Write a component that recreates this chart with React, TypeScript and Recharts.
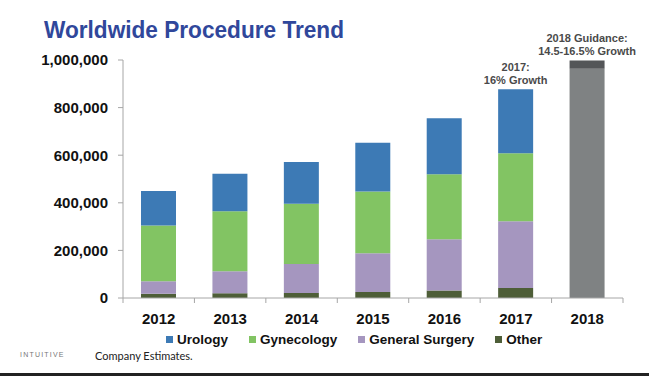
import React from "react";
import { BarChart, Bar, XAxis, YAxis, LabelList } from "recharts";

const YEARS = ["2012", "2013", "2014", "2015", "2016", "2017", "2018"];
const OTHER = [18000, 20000, 21000, 25000, 32000, 42000, null];
const GENERAL_SURGERY = [52000, 92000, 122000, 163000, 215000, 280000, null];
const GYNECOLOGY = [235000, 253000, 253000, 259000, 273000, 286000, null];
const UROLOGY = [145000, 157000, 175000, 205000, 235000, 269000, null];
const GUIDANCE_LOW = [null, null, null, null, null, null, 963000];
const GUIDANCE_RANGE = [null, null, null, null, null, null, 35000];
const NOTE_LINE1 = ["", "", "", "", "", "2017:", "2018 Guidance:"];
const NOTE_LINE2 = ["", "", "", "", "", "16% Growth", "14.5-16.5% Growth"];
const Y_TICKS = [0, 200000, 400000, 600000, 800000, 1000000];

const LEGEND = [
  { label: "Urology", color: "#3d7ab5" },
  { label: "Gynecology", color: "#82c463" },
  { label: "General Surgery", color: "#a596bf" },
  { label: "Other", color: "#4e5e38" },
];

const data = YEARS.map((year, i) => ({
  year,
  other: OTHER[i],
  gs: GENERAL_SURGERY[i],
  gyn: GYNECOLOGY[i],
  uro: UROLOGY[i],
  guideLow: GUIDANCE_LOW[i],
  guideRange: GUIDANCE_RANGE[i],
  note1: NOTE_LINE1[i],
}));

const FONT = "'Liberation Sans', Arial, sans-serif";
const AXIS = "#a6a6a6";
const BAND = 500 / YEARS.length;

function XTick(props: any) {
  const { x, y, payload, index } = props;
  const half = BAND / 2;
  return (
    <g>
      <line x1={x + half} x2={x + half} y1={y} y2={y + 5} stroke={AXIS} />
      {index === 0 && <line x1={x - half} x2={x - half} y1={y} y2={y + 5} stroke={AXIS} />}
      <text x={x} y={y + 26} textAnchor="middle" fontFamily={FONT} fontWeight="bold" fontSize={15} fill="#111">
        {payload.value}
      </text>
    </g>
  );
}

function Note(props: any) {
  const { x, y, width, value } = props;
  if (!value) return null;
  const i = NOTE_LINE1.indexOf(value);
  const cx = x + width / 2;
  return (
    <g fontFamily={FONT} fontWeight="bold" fontSize={11} fill="#4a4a4a" textAnchor="middle">
      <text x={cx} y={y - 18}>{value}</text>
      <text x={cx} y={y - 5}>{NOTE_LINE2[i]}</text>
    </g>
  );
}

export default function App() {
  return (
    <div style={{ position: "absolute", left: 0, top: 0, width: 649, height: 376, background: "#fff", overflow: "hidden", fontFamily: FONT }}>
      <svg width={649} height={50} style={{ position: "absolute", left: 0, top: 0 }}>
        <text x={44} y={38} fontFamily={FONT} fontWeight="bold" fontSize={23} fill="#30479b" textLength={300} lengthAdjust="spacingAndGlyphs">
          Worldwide Procedure Trend
        </text>
      </svg>
      <div style={{ position: "absolute", left: 0, top: 0 }}>
        <BarChart width={649} height={376} data={data} margin={{ top: 60, right: 26, left: 0, bottom: 48 }} barSize={35}>
          <YAxis
            width={123}
            domain={[0, 1000000]}
            ticks={Y_TICKS}
            tickFormatter={(v: number) => v.toLocaleString("en-US")}
            stroke={AXIS}
            tickSize={5}
            tickMargin={10}
            tick={{ fontFamily: FONT, fontWeight: "bold", fontSize: 15, fill: "#111" }}
          />
          <XAxis dataKey="year" height={30} stroke={AXIS} tickLine={false} tickSize={0} tickMargin={0} tick={<XTick />} interval={0} />
          <Bar dataKey="other" stackId="a" fill="#4e5e38" isAnimationActive={false} />
          <Bar dataKey="gs" stackId="a" fill="#a596bf" isAnimationActive={false} />
          <Bar dataKey="gyn" stackId="a" fill="#82c463" isAnimationActive={false} />
          <Bar dataKey="uro" stackId="a" fill="#3d7ab5" isAnimationActive={false}>
            <LabelList dataKey="note1" content={<Note />} />
          </Bar>
          <Bar dataKey="guideLow" stackId="a" fill="#7f8283" isAnimationActive={false} />
          <Bar dataKey="guideRange" stackId="a" fill="#545658" isAnimationActive={false}>
            <LabelList dataKey="note1" content={<Note />} />
          </Bar>
        </BarChart>
      </div>
      <div style={{ position: "absolute", left: 166, top: 332, display: "flex", gap: 21, alignItems: "center", fontWeight: "bold", fontSize: 13.5, color: "#111" }}>
        {LEGEND.map((l) => (
          <div key={l.label} style={{ display: "flex", alignItems: "center" }}>
            <span style={{ display: "inline-block", width: 7, height: 7, background: l.color, marginRight: 4 }} />
            <span>{l.label}</span>
          </div>
        ))}
      </div>
      <div style={{ position: "absolute", left: 20, top: 351, fontSize: 7, letterSpacing: 1.2, color: "#777" }}>INTUITIVE</div>
      <div style={{ position: "absolute", left: 95, top: 349, fontSize: 11, color: "#222", fontFamily: "Lato, 'Open Sans', sans-serif" }}>Company Estimates.</div>
      <div style={{ position: "absolute", left: 0, top: 373, width: 649, height: 3, background: "#222" }} />
    </div>
  );
}
